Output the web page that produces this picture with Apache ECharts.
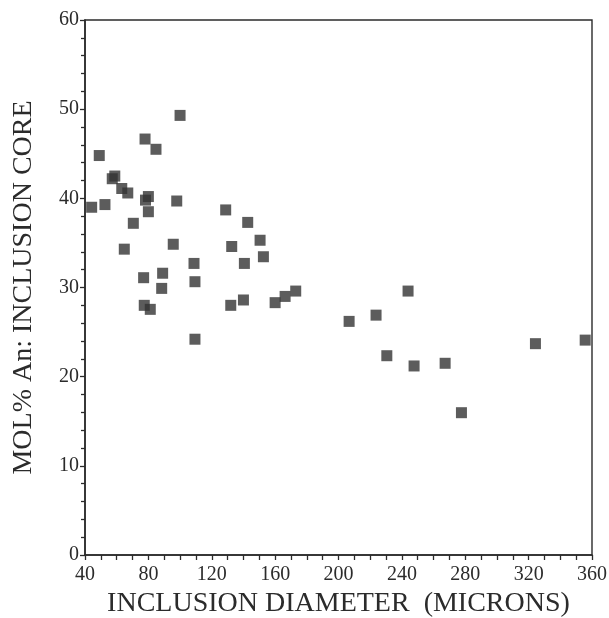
<!DOCTYPE html>
<html>
<head>
<meta charset="utf-8">
<script src="https://cdn.jsdelivr.net/npm/echarts@6/dist/echarts.min.js"></script>
<style>
  html, body { margin: 0; padding: 0; background: #fff; }
  #chart { width: 609px; height: 618px; }
</style>
</head>
<body>
<div id="chart"></div>
<script>
// inclusion diameter (microns) and core An content (mol %)
const diameter = [
  44.2, 49.0, 52.6, 57.2, 58.8, 63.2, 67.0, 64.8, 70.5, 77.9, 78.2, 80.0,
  80.0, 77.0, 77.4, 81.2, 84.8, 88.4, 89.0, 95.7, 97.9, 100.0, 108.8, 109.4,
  109.4, 128.8, 132.6, 132.0, 140.6, 140.0, 142.7, 150.5, 152.6, 160.0, 166.3,
  173.0, 206.7, 223.7, 230.5, 243.9, 247.7, 267.3, 277.6, 324.3, 355.7
];
const anCore = [
  39.0, 44.8, 39.3, 42.2, 42.5, 41.1, 40.6, 34.3, 37.2, 46.65, 39.8, 40.2,
  38.5, 31.1, 28.0, 27.55, 45.5, 29.9, 31.6, 34.85, 39.7, 49.3, 32.7, 30.65,
  24.2, 38.7, 34.6, 28.0, 32.7, 28.6, 37.3, 35.3, 33.45, 28.3, 29.0,
  29.6, 26.2, 26.9, 22.35, 29.6, 21.2, 21.5, 15.96, 23.7, 24.1
];
const points = diameter.map((d, i) => [d, anCore[i]]);

const xTicks = [40, 80, 120, 160, 200, 240, 280, 320, 360];
const yTicks = [0, 10, 20, 30, 40, 50, 60];

const ink = "#2b2b2b";
const font = "Liberation Serif";

const chart = echarts.init(document.getElementById("chart"));
chart.setOption({
  backgroundColor: "#fff",
  animation: false,
  grid: {
    left: 85, right: 17, top: 20, bottom: 63,
    outerBoundsMode: "none",
    show: true, borderColor: ink, borderWidth: 1.4
  },
  xAxis: {
    type: "value",
    min: xTicks[0],
    max: xTicks[xTicks.length - 1],
    interval: 40,
    name: "INCLUSION DIAMETER  (MICRONS)",
    nameLocation: "middle",
    nameGap: 34,
    nameTextStyle: { fontFamily: font, fontSize: 28, color: ink },
    axisLine: { show: true, lineStyle: { color: ink, width: 1.6 } },
    axisTick: { show: true, length: 5, lineStyle: { color: ink, width: 1.3 } },
    minorTick: { show: true, splitNumber: 4, length: 5, lineStyle: { color: ink, width: 1.3 } },
    axisLabel: { fontFamily: font, fontSize: 20, color: ink, margin: 10 },
    splitLine: { show: false }
  },
  yAxis: {
    type: "value",
    min: yTicks[0],
    max: yTicks[yTicks.length - 1],
    interval: 10,
    name: "MOL% An: INCLUSION CORE",
    nameLocation: "middle",
    nameGap: 47,
    nameTextStyle: { fontFamily: font, fontSize: 28, color: ink },
    axisLine: { show: true, lineStyle: { color: ink, width: 1.6 } },
    axisTick: { show: true, length: 5, lineStyle: { color: ink, width: 1.3 } },
    minorTick: { show: true, splitNumber: 5, length: 4, lineStyle: { color: ink, width: 1.3 } },
    axisLabel: { fontFamily: font, fontSize: 20, color: ink, margin: 6 },
    splitLine: { show: false }
  },
  series: [{
    type: "scatter",
    symbol: "rect",
    symbolSize: 11,
    itemStyle: { color: "#333" },
    data: points
  }]
});
</script>
</body>
</html>
